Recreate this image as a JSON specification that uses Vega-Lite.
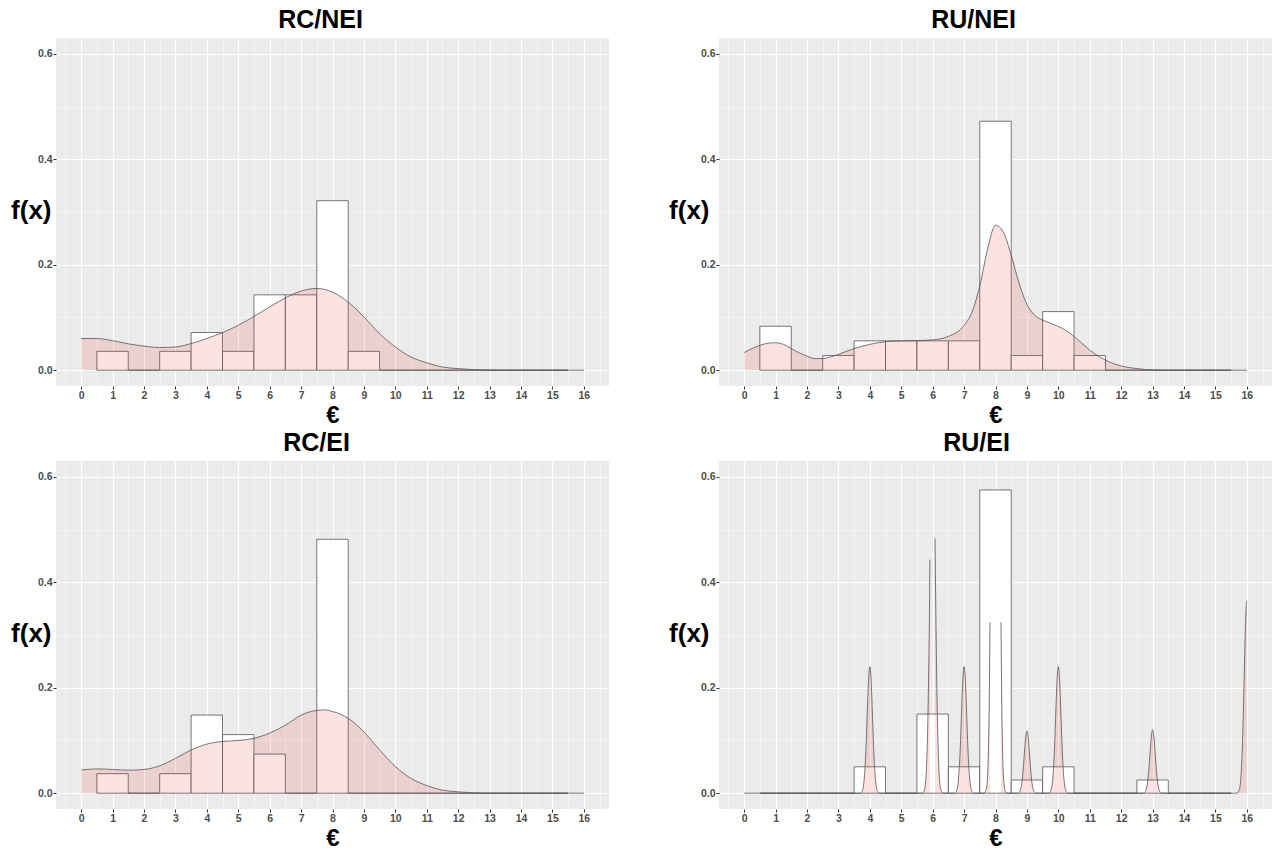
{
"$schema": "https://vega.github.io/schema/vega-lite/v6.json",
"padding": {"left": 10, "top": 8, "right": 0, "bottom": 0},
"background": "#FFFFFF",
"config": {
  "view": {"fill": "#EBEBEB", "stroke": null},
  "font": "Liberation Sans",
  "axis": {"domain": false, "grid": true, "gridColor": "#FFFFFF", "tickColor": "#333333", "tickSize": 3, "labelFont": "Liberation Sans", "labelFontWeight": "bold", "labelFontSize": 10.5, "labelColor": "#4D4D4D", "labelPadding": 1, "titleFont": "Liberation Sans", "titleFontWeight": "bold", "titleColor": "#000000", "labelOverlap": false, "labelFlush": false, "labelBound": false},
  "title": {"fontSize": 25, "font": "Liberation Sans", "fontWeight": "bold", "color": "#000000", "anchor": "middle", "frame": "group", "offset": 5, "baseline": "alphabetic"}
},
"datasets": {
"hist": [
{"p":"RC/NEI","lo":0.5,"hi":1.5,"f":0.0357},{"p":"RC/NEI","lo":1.5,"hi":2.5,"f":0},{"p":"RC/NEI","lo":2.5,"hi":3.5,"f":0.0357},{"p":"RC/NEI","lo":3.5,"hi":4.5,"f":0.0714},{"p":"RC/NEI","lo":4.5,"hi":5.5,"f":0.0357},{"p":"RC/NEI","lo":5.5,"hi":6.5,"f":0.1429},{"p":"RC/NEI","lo":6.5,"hi":7.5,"f":0.1429},{"p":"RC/NEI","lo":7.5,"hi":8.5,"f":0.3214},{"p":"RC/NEI","lo":8.5,"hi":9.5,"f":0.0357},{"p":"RC/NEI","lo":9.5,"hi":10.5,"f":0},{"p":"RC/NEI","lo":10.5,"hi":11.5,"f":0},{"p":"RC/NEI","lo":11.5,"hi":12.5,"f":0},{"p":"RC/NEI","lo":12.5,"hi":13.5,"f":0},{"p":"RC/NEI","lo":13.5,"hi":14.5,"f":0},{"p":"RC/NEI","lo":14.5,"hi":15.5,"f":0},
{"p":"RU/NEI","lo":0.5,"hi":1.5,"f":0.0833},{"p":"RU/NEI","lo":1.5,"hi":2.5,"f":0},{"p":"RU/NEI","lo":2.5,"hi":3.5,"f":0.0278},{"p":"RU/NEI","lo":3.5,"hi":4.5,"f":0.0556},{"p":"RU/NEI","lo":4.5,"hi":5.5,"f":0.0556},{"p":"RU/NEI","lo":5.5,"hi":6.5,"f":0.0556},{"p":"RU/NEI","lo":6.5,"hi":7.5,"f":0.0556},{"p":"RU/NEI","lo":7.5,"hi":8.5,"f":0.4722},{"p":"RU/NEI","lo":8.5,"hi":9.5,"f":0.0278},{"p":"RU/NEI","lo":9.5,"hi":10.5,"f":0.1111},{"p":"RU/NEI","lo":10.5,"hi":11.5,"f":0.0278},{"p":"RU/NEI","lo":11.5,"hi":12.5,"f":0},{"p":"RU/NEI","lo":12.5,"hi":13.5,"f":0},{"p":"RU/NEI","lo":13.5,"hi":14.5,"f":0},{"p":"RU/NEI","lo":14.5,"hi":15.5,"f":0},
{"p":"RC/EI","lo":0.5,"hi":1.5,"f":0.037},{"p":"RC/EI","lo":1.5,"hi":2.5,"f":0},{"p":"RC/EI","lo":2.5,"hi":3.5,"f":0.037},{"p":"RC/EI","lo":3.5,"hi":4.5,"f":0.1481},{"p":"RC/EI","lo":4.5,"hi":5.5,"f":0.1111},{"p":"RC/EI","lo":5.5,"hi":6.5,"f":0.0741},{"p":"RC/EI","lo":6.5,"hi":7.5,"f":0},{"p":"RC/EI","lo":7.5,"hi":8.5,"f":0.4815},{"p":"RC/EI","lo":8.5,"hi":9.5,"f":0},{"p":"RC/EI","lo":9.5,"hi":10.5,"f":0},{"p":"RC/EI","lo":10.5,"hi":11.5,"f":0},{"p":"RC/EI","lo":11.5,"hi":12.5,"f":0},{"p":"RC/EI","lo":12.5,"hi":13.5,"f":0},{"p":"RC/EI","lo":13.5,"hi":14.5,"f":0},{"p":"RC/EI","lo":14.5,"hi":15.5,"f":0},
{"p":"RU/EI","lo":0.5,"hi":1.5,"f":0},{"p":"RU/EI","lo":1.5,"hi":2.5,"f":0},{"p":"RU/EI","lo":2.5,"hi":3.5,"f":0},{"p":"RU/EI","lo":3.5,"hi":4.5,"f":0.05},{"p":"RU/EI","lo":4.5,"hi":5.5,"f":0},{"p":"RU/EI","lo":5.5,"hi":6.5,"f":0.15},{"p":"RU/EI","lo":6.5,"hi":7.5,"f":0.05},{"p":"RU/EI","lo":7.5,"hi":8.5,"f":0.575},{"p":"RU/EI","lo":8.5,"hi":9.5,"f":0.025},{"p":"RU/EI","lo":9.5,"hi":10.5,"f":0.05},{"p":"RU/EI","lo":10.5,"hi":11.5,"f":0},{"p":"RU/EI","lo":11.5,"hi":12.5,"f":0},{"p":"RU/EI","lo":12.5,"hi":13.5,"f":0.025},{"p":"RU/EI","lo":13.5,"hi":14.5,"f":0},{"p":"RU/EI","lo":14.5,"hi":15.5,"f":0}
],
"dens": [
{"p":"RC/NEI","x":0,"y":0.06},{"p":"RC/NEI","x":0.5,"y":0.06},{"p":"RC/NEI","x":1,"y":0.056},{"p":"RC/NEI","x":1.5,"y":0.05},{"p":"RC/NEI","x":2,"y":0.0455},{"p":"RC/NEI","x":2.5,"y":0.043},{"p":"RC/NEI","x":3,"y":0.044},{"p":"RC/NEI","x":3.5,"y":0.0505},{"p":"RC/NEI","x":4,"y":0.06},{"p":"RC/NEI","x":4.5,"y":0.0714},{"p":"RC/NEI","x":5,"y":0.085},{"p":"RC/NEI","x":5.5,"y":0.102},{"p":"RC/NEI","x":6,"y":0.12},{"p":"RC/NEI","x":6.5,"y":0.137},{"p":"RC/NEI","x":7,"y":0.15},{"p":"RC/NEI","x":7.5,"y":0.155},{"p":"RC/NEI","x":8,"y":0.148},{"p":"RC/NEI","x":8.5,"y":0.129},{"p":"RC/NEI","x":9,"y":0.101},{"p":"RC/NEI","x":9.5,"y":0.069},{"p":"RC/NEI","x":10,"y":0.044},{"p":"RC/NEI","x":10.5,"y":0.025},{"p":"RC/NEI","x":11,"y":0.014},{"p":"RC/NEI","x":11.5,"y":0.006},{"p":"RC/NEI","x":12,"y":0.003},{"p":"RC/NEI","x":12.5,"y":0.001},{"p":"RC/NEI","x":13,"y":0.0003},{"p":"RC/NEI","x":13.5,"y":0},{"p":"RC/NEI","x":16,"y":0},
{"p":"RU/NEI","x":0,"y":0.0335},{"p":"RU/NEI","x":0.25,"y":0.041},{"p":"RU/NEI","x":0.5,"y":0.047},{"p":"RU/NEI","x":0.75,"y":0.051},{"p":"RU/NEI","x":1,"y":0.052},{"p":"RU/NEI","x":1.25,"y":0.049},{"p":"RU/NEI","x":1.5,"y":0.041},{"p":"RU/NEI","x":1.75,"y":0.033},{"p":"RU/NEI","x":2,"y":0.0265},{"p":"RU/NEI","x":2.25,"y":0.022},{"p":"RU/NEI","x":2.5,"y":0.022},{"p":"RU/NEI","x":2.75,"y":0.025},{"p":"RU/NEI","x":3,"y":0.03},{"p":"RU/NEI","x":3.5,"y":0.041},{"p":"RU/NEI","x":4,"y":0.049},{"p":"RU/NEI","x":4.5,"y":0.054},{"p":"RU/NEI","x":5,"y":0.0556},{"p":"RU/NEI","x":5.5,"y":0.056},{"p":"RU/NEI","x":6,"y":0.0575},{"p":"RU/NEI","x":6.5,"y":0.064},{"p":"RU/NEI","x":7,"y":0.085},{"p":"RU/NEI","x":7.25,"y":0.11},{"p":"RU/NEI","x":7.5,"y":0.16},{"p":"RU/NEI","x":7.75,"y":0.23},{"p":"RU/NEI","x":8,"y":0.275},{"p":"RU/NEI","x":8.25,"y":0.262},{"p":"RU/NEI","x":8.5,"y":0.218},{"p":"RU/NEI","x":8.75,"y":0.165},{"p":"RU/NEI","x":9,"y":0.125},{"p":"RU/NEI","x":9.25,"y":0.104},{"p":"RU/NEI","x":9.5,"y":0.095},{"p":"RU/NEI","x":9.75,"y":0.089},{"p":"RU/NEI","x":10,"y":0.083},{"p":"RU/NEI","x":10.25,"y":0.075},{"p":"RU/NEI","x":10.5,"y":0.064},{"p":"RU/NEI","x":10.75,"y":0.051},{"p":"RU/NEI","x":11,"y":0.038},{"p":"RU/NEI","x":11.5,"y":0.019},{"p":"RU/NEI","x":12,"y":0.008},{"p":"RU/NEI","x":12.5,"y":0.003},{"p":"RU/NEI","x":13,"y":0.0005},{"p":"RU/NEI","x":13.5,"y":0},{"p":"RU/NEI","x":16,"y":0},
{"p":"RC/EI","x":0,"y":0.044},{"p":"RC/EI","x":0.5,"y":0.046},{"p":"RC/EI","x":1,"y":0.045},{"p":"RC/EI","x":1.5,"y":0.0436},{"p":"RC/EI","x":2,"y":0.045},{"p":"RC/EI","x":2.5,"y":0.052},{"p":"RC/EI","x":3,"y":0.066},{"p":"RC/EI","x":3.5,"y":0.082},{"p":"RC/EI","x":4,"y":0.093},{"p":"RC/EI","x":4.5,"y":0.098},{"p":"RC/EI","x":5,"y":0.1},{"p":"RC/EI","x":5.5,"y":0.104},{"p":"RC/EI","x":6,"y":0.114},{"p":"RC/EI","x":6.5,"y":0.129},{"p":"RC/EI","x":7,"y":0.148},{"p":"RC/EI","x":7.5,"y":0.157},{"p":"RC/EI","x":7.75,"y":0.158},{"p":"RC/EI","x":8,"y":0.155},{"p":"RC/EI","x":8.5,"y":0.142},{"p":"RC/EI","x":9,"y":0.116},{"p":"RC/EI","x":9.5,"y":0.082},{"p":"RC/EI","x":10,"y":0.0505},{"p":"RC/EI","x":10.5,"y":0.028},{"p":"RC/EI","x":11,"y":0.0145},{"p":"RC/EI","x":11.5,"y":0.0057},{"p":"RC/EI","x":12,"y":0.0025},{"p":"RC/EI","x":12.5,"y":0.0006},{"p":"RC/EI","x":13,"y":0},{"p":"RC/EI","x":16,"y":0},
{"p":"RU/EI","s":1,"x":0,"y":0},{"p":"RU/EI","s":1,"x":3.7,"y":0},{"p":"RU/EI","s":1,"x":3.75,"y":0.003},{"p":"RU/EI","s":1,"x":3.8,"y":0.015},{"p":"RU/EI","s":1,"x":3.825,"y":0.029},{"p":"RU/EI","s":1,"x":3.85,"y":0.051},{"p":"RU/EI","s":1,"x":3.875,"y":0.081},{"p":"RU/EI","s":1,"x":3.9,"y":0.12},{"p":"RU/EI","s":1,"x":3.925,"y":0.163},{"p":"RU/EI","s":1,"x":3.95,"y":0.202},{"p":"RU/EI","s":1,"x":3.975,"y":0.23},{"p":"RU/EI","s":1,"x":4,"y":0.24},{"p":"RU/EI","s":1,"x":4.025,"y":0.23},{"p":"RU/EI","s":1,"x":4.05,"y":0.202},{"p":"RU/EI","s":1,"x":4.075,"y":0.163},{"p":"RU/EI","s":1,"x":4.1,"y":0.12},{"p":"RU/EI","s":1,"x":4.125,"y":0.081},{"p":"RU/EI","s":1,"x":4.15,"y":0.051},{"p":"RU/EI","s":1,"x":4.175,"y":0.029},{"p":"RU/EI","s":1,"x":4.2,"y":0.015},{"p":"RU/EI","s":1,"x":4.25,"y":0.003},{"p":"RU/EI","s":1,"x":4.3,"y":0},{"p":"RU/EI","s":1,"x":5.65,"y":0},{"p":"RU/EI","s":1,"x":5.7,"y":0.0014},{"p":"RU/EI","s":1,"x":5.75,"y":0.009},{"p":"RU/EI","s":1,"x":5.8,"y":0.044},{"p":"RU/EI","s":1,"x":5.825,"y":0.084},{"p":"RU/EI","s":1,"x":5.85,"y":0.148},{"p":"RU/EI","s":1,"x":5.875,"y":0.237},{"p":"RU/EI","s":1,"x":5.9,"y":0.35},{"p":"RU/EI","s":1,"x":5.912,"y":0.443},
{"p":"RU/EI","s":2,"x":6.075,"y":0.483},{"p":"RU/EI","s":2,"x":6.1,"y":0.35},{"p":"RU/EI","s":2,"x":6.125,"y":0.237},{"p":"RU/EI","s":2,"x":6.15,"y":0.148},{"p":"RU/EI","s":2,"x":6.175,"y":0.084},{"p":"RU/EI","s":2,"x":6.2,"y":0.044},{"p":"RU/EI","s":2,"x":6.25,"y":0.009},{"p":"RU/EI","s":2,"x":6.3,"y":0.0014},{"p":"RU/EI","s":2,"x":6.35,"y":0},{"p":"RU/EI","s":2,"x":6.7,"y":0},{"p":"RU/EI","s":2,"x":6.75,"y":0.003},{"p":"RU/EI","s":2,"x":6.8,"y":0.015},{"p":"RU/EI","s":2,"x":6.825,"y":0.029},{"p":"RU/EI","s":2,"x":6.85,"y":0.051},{"p":"RU/EI","s":2,"x":6.875,"y":0.081},{"p":"RU/EI","s":2,"x":6.9,"y":0.12},{"p":"RU/EI","s":2,"x":6.925,"y":0.163},{"p":"RU/EI","s":2,"x":6.95,"y":0.202},{"p":"RU/EI","s":2,"x":6.975,"y":0.23},{"p":"RU/EI","s":2,"x":7,"y":0.24},{"p":"RU/EI","s":2,"x":7.025,"y":0.23},{"p":"RU/EI","s":2,"x":7.05,"y":0.202},{"p":"RU/EI","s":2,"x":7.075,"y":0.163},{"p":"RU/EI","s":2,"x":7.1,"y":0.12},{"p":"RU/EI","s":2,"x":7.125,"y":0.081},{"p":"RU/EI","s":2,"x":7.15,"y":0.051},{"p":"RU/EI","s":2,"x":7.175,"y":0.029},{"p":"RU/EI","s":2,"x":7.2,"y":0.015},{"p":"RU/EI","s":2,"x":7.25,"y":0.003},{"p":"RU/EI","s":2,"x":7.3,"y":0},{"p":"RU/EI","s":2,"x":7.6,"y":0},{"p":"RU/EI","s":2,"x":7.65,"y":0.0012},{"p":"RU/EI","s":2,"x":7.7,"y":0.0054},{"p":"RU/EI","s":2,"x":7.75,"y":0.036},{"p":"RU/EI","s":2,"x":7.775,"y":0.081},{"p":"RU/EI","s":2,"x":7.8,"y":0.17},{"p":"RU/EI","s":2,"x":7.825,"y":0.324},
{"p":"RU/EI","s":3,"x":8.175,"y":0.324},{"p":"RU/EI","s":3,"x":8.2,"y":0.17},{"p":"RU/EI","s":3,"x":8.225,"y":0.081},{"p":"RU/EI","s":3,"x":8.25,"y":0.036},{"p":"RU/EI","s":3,"x":8.3,"y":0.0054},{"p":"RU/EI","s":3,"x":8.35,"y":0.0012},{"p":"RU/EI","s":3,"x":8.4,"y":0},{"p":"RU/EI","s":3,"x":8.7,"y":0},{"p":"RU/EI","s":3,"x":8.75,"y":0.0015},{"p":"RU/EI","s":3,"x":8.8,"y":0.0074},{"p":"RU/EI","s":3,"x":8.825,"y":0.014},{"p":"RU/EI","s":3,"x":8.85,"y":0.025},{"p":"RU/EI","s":3,"x":8.875,"y":0.04},{"p":"RU/EI","s":3,"x":8.9,"y":0.059},{"p":"RU/EI","s":3,"x":8.925,"y":0.08},{"p":"RU/EI","s":3,"x":8.95,"y":0.099},{"p":"RU/EI","s":3,"x":8.975,"y":0.113},{"p":"RU/EI","s":3,"x":9,"y":0.118},{"p":"RU/EI","s":3,"x":9.025,"y":0.113},{"p":"RU/EI","s":3,"x":9.05,"y":0.099},{"p":"RU/EI","s":3,"x":9.075,"y":0.08},{"p":"RU/EI","s":3,"x":9.1,"y":0.059},{"p":"RU/EI","s":3,"x":9.125,"y":0.04},{"p":"RU/EI","s":3,"x":9.15,"y":0.025},{"p":"RU/EI","s":3,"x":9.175,"y":0.014},{"p":"RU/EI","s":3,"x":9.2,"y":0.0074},{"p":"RU/EI","s":3,"x":9.25,"y":0.0015},{"p":"RU/EI","s":3,"x":9.3,"y":0},{"p":"RU/EI","s":3,"x":9.7,"y":0},{"p":"RU/EI","s":3,"x":9.75,"y":0.003},{"p":"RU/EI","s":3,"x":9.8,"y":0.015},{"p":"RU/EI","s":3,"x":9.825,"y":0.029},{"p":"RU/EI","s":3,"x":9.85,"y":0.051},{"p":"RU/EI","s":3,"x":9.875,"y":0.081},{"p":"RU/EI","s":3,"x":9.9,"y":0.12},{"p":"RU/EI","s":3,"x":9.925,"y":0.163},{"p":"RU/EI","s":3,"x":9.95,"y":0.202},{"p":"RU/EI","s":3,"x":9.975,"y":0.23},{"p":"RU/EI","s":3,"x":10,"y":0.24},{"p":"RU/EI","s":3,"x":10.025,"y":0.23},{"p":"RU/EI","s":3,"x":10.05,"y":0.202},{"p":"RU/EI","s":3,"x":10.075,"y":0.163},{"p":"RU/EI","s":3,"x":10.1,"y":0.12},{"p":"RU/EI","s":3,"x":10.125,"y":0.081},{"p":"RU/EI","s":3,"x":10.15,"y":0.051},{"p":"RU/EI","s":3,"x":10.175,"y":0.029},{"p":"RU/EI","s":3,"x":10.2,"y":0.015},{"p":"RU/EI","s":3,"x":10.25,"y":0.003},{"p":"RU/EI","s":3,"x":10.3,"y":0},{"p":"RU/EI","s":3,"x":12.7,"y":0},{"p":"RU/EI","s":3,"x":12.75,"y":0.0015},{"p":"RU/EI","s":3,"x":12.8,"y":0.0076},{"p":"RU/EI","s":3,"x":12.825,"y":0.0144},{"p":"RU/EI","s":3,"x":12.85,"y":0.0253},{"p":"RU/EI","s":3,"x":12.875,"y":0.041},{"p":"RU/EI","s":3,"x":12.9,"y":0.06},{"p":"RU/EI","s":3,"x":12.925,"y":0.081},{"p":"RU/EI","s":3,"x":12.95,"y":0.101},{"p":"RU/EI","s":3,"x":12.975,"y":0.115},{"p":"RU/EI","s":3,"x":13,"y":0.12},{"p":"RU/EI","s":3,"x":13.025,"y":0.115},{"p":"RU/EI","s":3,"x":13.05,"y":0.101},{"p":"RU/EI","s":3,"x":13.075,"y":0.081},{"p":"RU/EI","s":3,"x":13.1,"y":0.06},{"p":"RU/EI","s":3,"x":13.125,"y":0.041},{"p":"RU/EI","s":3,"x":13.15,"y":0.0253},{"p":"RU/EI","s":3,"x":13.175,"y":0.0144},{"p":"RU/EI","s":3,"x":13.2,"y":0.0076},{"p":"RU/EI","s":3,"x":13.25,"y":0.0015},{"p":"RU/EI","s":3,"x":13.3,"y":0},{"p":"RU/EI","s":3,"x":15.65,"y":0},{"p":"RU/EI","s":3,"x":15.7,"y":0.0007},{"p":"RU/EI","s":3,"x":15.75,"y":0.0048},{"p":"RU/EI","s":3,"x":15.8,"y":0.023},{"p":"RU/EI","s":3,"x":15.825,"y":0.044},{"p":"RU/EI","s":3,"x":15.85,"y":0.077},{"p":"RU/EI","s":3,"x":15.875,"y":0.124},{"p":"RU/EI","s":3,"x":15.9,"y":0.183},{"p":"RU/EI","s":3,"x":15.925,"y":0.247},{"p":"RU/EI","s":3,"x":15.95,"y":0.307},{"p":"RU/EI","s":3,"x":15.975,"y":0.35},{"p":"RU/EI","s":3,"x":16,"y":0.365}
]
},
"columns": 2,
"spacing": {"row": 75, "column": 110},
"bounds": "flush",
"concat": [
{"width": 553, "height": 348, "title": {"text": "RC/NEI", "dx": -12},
 "resolve": {"axis": {"x": "independent"}},
 "layer": [
  {"data": {"name": "hist"}, "transform": [{"filter": "datum.p === 'RC/NEI'"}],
   "mark": {"type": "rect", "fill": "#FFFFFF", "stroke": "#555555", "strokeWidth": 0.8},
   "encoding": {
    "x": {"field": "lo", "type": "quantitative", "title": "€", "scale": {"domain": [-0.8, 16.8], "nice": false, "zero": false},
      "axis": {"orient": "bottom", "values": [0,1,2,3,4,5,6,7,8,9,10,11,12,13,14,15,16], "format": "d", "gridWidth": 1, "titleY": 36, "titleBaseline": "alphabetic", "titleFontSize": 24}},
    "x2": {"field": "hi"},
    "y": {"field": "f", "type": "quantitative", "title": "f(x)", "scale": {"domain": [-0.03, 0.63], "nice": false, "zero": false},
      "axis": {"values": [0,0.1,0.2,0.3,0.4,0.5,0.6], "labelExpr": "round(datum.value*10) % 2 === 0 ? format(datum.value, '.1f') : ''", "tickOpacity": {"condition": {"test": "round(datum.value*10) % 2 === 0", "value": 1}, "value": 0}, "gridWidth": {"condition": {"test": "round(datum.value*10) % 2 === 0", "value": 1}, "value": 0.5}, "titleAngle": 0, "titleAlign": "right", "titleBaseline": "middle", "titleX": -5, "titleY": 172, "titleFontSize": 26}},
    "y2": {"datum": 0}
   }},
  {"data": {"name": "dens"}, "transform": [{"filter": "datum.p === 'RC/NEI'"}],
   "mark": {"type": "area", "interpolate": "monotone", "fill": "#F03030", "fillOpacity": 0.14},
   "encoding": {"x": {"field": "x", "type": "quantitative", "title": null, "axis": {"orient": "top", "values": [-0.5,0.5,1.5,2.5,3.5,4.5,5.5,6.5,7.5,8.5,9.5,10.5,11.5,12.5,13.5,14.5,15.5,16.5], "labels": false, "ticks": false, "grid": true, "gridWidth": 0.5, "title": null}}, "y": {"field": "y", "type": "quantitative", "title": "f(x)", "stack": null}, "y2": {"datum": 0}, "detail": {"field": "s"}}},
  {"data": {"name": "dens"}, "transform": [{"filter": "datum.p === 'RC/NEI'"}],
   "mark": {"type": "line", "interpolate": "monotone", "stroke": "#555555", "strokeWidth": 0.8},
   "encoding": {"x": {"field": "x", "type": "quantitative", "axis": null}, "y": {"field": "y", "type": "quantitative", "title": "f(x)"}, "detail": {"field": "s"}}}
 ]},
{"width": 553, "height": 348, "title": {"text": "RU/NEI", "dx": -22},
 "resolve": {"axis": {"x": "independent"}},
 "layer": [
  {"data": {"name": "hist"}, "transform": [{"filter": "datum.p === 'RU/NEI'"}],
   "mark": {"type": "rect", "fill": "#FFFFFF", "stroke": "#555555", "strokeWidth": 0.8},
   "encoding": {
    "x": {"field": "lo", "type": "quantitative", "title": "€", "scale": {"domain": [-0.8, 16.8], "nice": false, "zero": false},
      "axis": {"orient": "bottom", "values": [0,1,2,3,4,5,6,7,8,9,10,11,12,13,14,15,16], "format": "d", "gridWidth": 1, "titleY": 36, "titleBaseline": "alphabetic", "titleFontSize": 24}},
    "x2": {"field": "hi"},
    "y": {"field": "f", "type": "quantitative", "title": "f(x)", "scale": {"domain": [-0.03, 0.63], "nice": false, "zero": false},
      "axis": {"values": [0,0.1,0.2,0.3,0.4,0.5,0.6], "labelExpr": "round(datum.value*10) % 2 === 0 ? format(datum.value, '.1f') : ''", "tickOpacity": {"condition": {"test": "round(datum.value*10) % 2 === 0", "value": 1}, "value": 0}, "gridWidth": {"condition": {"test": "round(datum.value*10) % 2 === 0", "value": 1}, "value": 0.5}, "titleAngle": 0, "titleAlign": "right", "titleBaseline": "middle", "titleX": -10, "titleY": 172, "titleFontSize": 26}},
    "y2": {"datum": 0}
   }},
  {"data": {"name": "dens"}, "transform": [{"filter": "datum.p === 'RU/NEI'"}],
   "mark": {"type": "area", "interpolate": "monotone", "fill": "#F03030", "fillOpacity": 0.14},
   "encoding": {"x": {"field": "x", "type": "quantitative", "title": null, "axis": {"orient": "top", "values": [-0.5,0.5,1.5,2.5,3.5,4.5,5.5,6.5,7.5,8.5,9.5,10.5,11.5,12.5,13.5,14.5,15.5,16.5], "labels": false, "ticks": false, "grid": true, "gridWidth": 0.5, "title": null}}, "y": {"field": "y", "type": "quantitative", "title": "f(x)", "stack": null}, "y2": {"datum": 0}, "detail": {"field": "s"}}},
  {"data": {"name": "dens"}, "transform": [{"filter": "datum.p === 'RU/NEI'"}],
   "mark": {"type": "line", "interpolate": "monotone", "stroke": "#555555", "strokeWidth": 0.8},
   "encoding": {"x": {"field": "x", "type": "quantitative", "axis": null}, "y": {"field": "y", "type": "quantitative", "title": "f(x)"}, "detail": {"field": "s"}}}
 ]},
{"width": 553, "height": 348, "title": {"text": "RC/EI", "dx": -16},
 "resolve": {"axis": {"x": "independent"}},
 "layer": [
  {"data": {"name": "hist"}, "transform": [{"filter": "datum.p === 'RC/EI'"}],
   "mark": {"type": "rect", "fill": "#FFFFFF", "stroke": "#555555", "strokeWidth": 0.8},
   "encoding": {
    "x": {"field": "lo", "type": "quantitative", "title": "€", "scale": {"domain": [-0.8, 16.8], "nice": false, "zero": false},
      "axis": {"orient": "bottom", "values": [0,1,2,3,4,5,6,7,8,9,10,11,12,13,14,15,16], "format": "d", "gridWidth": 1, "titleY": 36, "titleBaseline": "alphabetic", "titleFontSize": 24}},
    "x2": {"field": "hi"},
    "y": {"field": "f", "type": "quantitative", "title": "f(x)", "scale": {"domain": [-0.03, 0.63], "nice": false, "zero": false},
      "axis": {"values": [0,0.1,0.2,0.3,0.4,0.5,0.6], "labelExpr": "round(datum.value*10) % 2 === 0 ? format(datum.value, '.1f') : ''", "tickOpacity": {"condition": {"test": "round(datum.value*10) % 2 === 0", "value": 1}, "value": 0}, "gridWidth": {"condition": {"test": "round(datum.value*10) % 2 === 0", "value": 1}, "value": 0.5}, "titleAngle": 0, "titleAlign": "right", "titleBaseline": "middle", "titleX": -5, "titleY": 172, "titleFontSize": 26}},
    "y2": {"datum": 0}
   }},
  {"data": {"name": "dens"}, "transform": [{"filter": "datum.p === 'RC/EI'"}],
   "mark": {"type": "area", "interpolate": "monotone", "fill": "#F03030", "fillOpacity": 0.14},
   "encoding": {"x": {"field": "x", "type": "quantitative", "title": null, "axis": {"orient": "top", "values": [-0.5,0.5,1.5,2.5,3.5,4.5,5.5,6.5,7.5,8.5,9.5,10.5,11.5,12.5,13.5,14.5,15.5,16.5], "labels": false, "ticks": false, "grid": true, "gridWidth": 0.5, "title": null}}, "y": {"field": "y", "type": "quantitative", "title": "f(x)", "stack": null}, "y2": {"datum": 0}, "detail": {"field": "s"}}},
  {"data": {"name": "dens"}, "transform": [{"filter": "datum.p === 'RC/EI'"}],
   "mark": {"type": "line", "interpolate": "monotone", "stroke": "#555555", "strokeWidth": 0.8},
   "encoding": {"x": {"field": "x", "type": "quantitative", "axis": null}, "y": {"field": "y", "type": "quantitative", "title": "f(x)"}, "detail": {"field": "s"}}}
 ]},
{"width": 553, "height": 348, "title": {"text": "RU/EI", "dx": -19},
 "resolve": {"axis": {"x": "independent"}},
 "layer": [
  {"data": {"name": "hist"}, "transform": [{"filter": "datum.p === 'RU/EI'"}],
   "mark": {"type": "rect", "fill": "#FFFFFF", "stroke": "#555555", "strokeWidth": 0.8},
   "encoding": {
    "x": {"field": "lo", "type": "quantitative", "title": "€", "scale": {"domain": [-0.8, 16.8], "nice": false, "zero": false},
      "axis": {"orient": "bottom", "values": [0,1,2,3,4,5,6,7,8,9,10,11,12,13,14,15,16], "format": "d", "gridWidth": 1, "titleY": 36, "titleBaseline": "alphabetic", "titleFontSize": 24}},
    "x2": {"field": "hi"},
    "y": {"field": "f", "type": "quantitative", "title": "f(x)", "scale": {"domain": [-0.03, 0.63], "nice": false, "zero": false},
      "axis": {"values": [0,0.1,0.2,0.3,0.4,0.5,0.6], "labelExpr": "round(datum.value*10) % 2 === 0 ? format(datum.value, '.1f') : ''", "tickOpacity": {"condition": {"test": "round(datum.value*10) % 2 === 0", "value": 1}, "value": 0}, "gridWidth": {"condition": {"test": "round(datum.value*10) % 2 === 0", "value": 1}, "value": 0.5}, "titleAngle": 0, "titleAlign": "right", "titleBaseline": "middle", "titleX": -10, "titleY": 172, "titleFontSize": 26}},
    "y2": {"datum": 0}
   }},
  {"data": {"name": "dens"}, "transform": [{"filter": "datum.p === 'RU/EI'"}],
   "mark": {"type": "area", "interpolate": "monotone", "fill": "#F03030", "fillOpacity": 0.14},
   "encoding": {"x": {"field": "x", "type": "quantitative", "title": null, "axis": {"orient": "top", "values": [-0.5,0.5,1.5,2.5,3.5,4.5,5.5,6.5,7.5,8.5,9.5,10.5,11.5,12.5,13.5,14.5,15.5,16.5], "labels": false, "ticks": false, "grid": true, "gridWidth": 0.5, "title": null}}, "y": {"field": "y", "type": "quantitative", "title": "f(x)", "stack": null}, "y2": {"datum": 0}, "detail": {"field": "s"}}},
  {"data": {"name": "dens"}, "transform": [{"filter": "datum.p === 'RU/EI'"}],
   "mark": {"type": "line", "interpolate": "monotone", "stroke": "#555555", "strokeWidth": 0.8},
   "encoding": {"x": {"field": "x", "type": "quantitative", "axis": null}, "y": {"field": "y", "type": "quantitative", "title": "f(x)"}, "detail": {"field": "s"}}}
 ]}
]
}
